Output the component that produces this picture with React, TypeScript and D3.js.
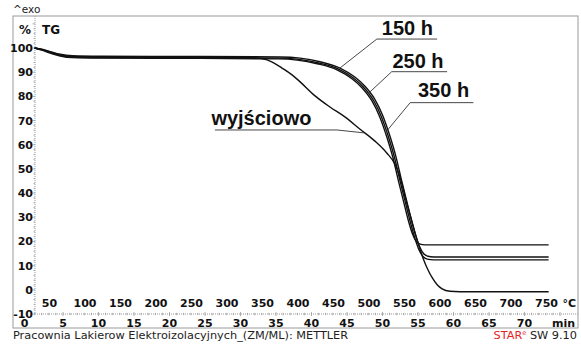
import React from "react";
import * as d3 from "d3";

const W = 581;
const H = 344;

// Axis ticks
const yTicks = [100, 90, 80, 70, 60, 50, 40, 30, 20, 10, 0, -10];
const timeTicks = [0, 5, 10, 15, 20, 25, 30, 35, 40, 45, 50, 55, 60, 65, 70];
const tempTicks = [50, 100, 150, 200, 250, 300, 350, 400, 450, 500, 550, 600, 650, 700, 750];
const tempAtZero = 19; // °C at t = 0
const heatingRate = 10; // K/min

// Series: [time (min), mass (%)]
const wyjsciowo: [number, number][] = [
  [1.0, 100.0], [2.0, 99.4], [3.2, 98.3], [4.6, 97.1], [6.3, 96.5], [10.2, 96.3], [24.3, 96.2],
  [31.3, 96.1], [33.0, 95.6], [34.4, 94.3], [35.8, 91.8], [37.3, 88.8], [38.4, 86.0], [40.5, 80.2],
  [42.6, 75.6], [44.7, 71.5], [46.8, 66.5], [48.9, 61.6], [50.6, 56.6], [51.8, 51.7], [52.5, 46.3],
  [53.3, 37.2], [54.15, 28.1], [55.0, 19.4], [55.7, 13.2], [56.4, 8.3], [57.0, 5.0], [57.7, 2.1],
  [58.4, 0.4], [59.5, -0.6], [60.9, -0.8], [73.4, -0.8],
];
const h150: [number, number][] = [
  [1.0, 100.0], [2.0, 99.5], [3.2, 98.5], [4.6, 97.4], [6.3, 96.8], [10.2, 96.6], [24.3, 96.5],
  [35.6, 96.3], [38.4, 95.8], [41.2, 94.3], [44.0, 91.7], [46.1, 88.0], [47.5, 84.3], [48.9, 78.9],
  [50.0, 72.3], [51.0, 64.0], [51.9, 55.0], [52.6, 46.3], [53.3, 38.0], [54.0, 29.8], [54.7, 22.3],
  [55.3, 17.4], [55.8, 14.9], [56.4, 13.9], [57.2, 13.6], [73.4, 13.6],
];
const h250: [number, number][] = [
  [1.0, 100.0], [2.0, 99.3], [3.2, 98.2], [4.6, 97.0], [6.3, 96.3], [10.2, 96.1], [24.3, 96.0],
  [35.4, 95.8], [38.2, 95.3], [41.0, 93.8], [43.8, 91.3], [45.9, 87.6], [47.3, 83.9], [48.7, 78.5],
  [49.8, 71.9], [50.8, 63.6], [51.7, 54.6], [52.4, 45.9], [53.1, 37.6], [53.8, 29.4], [54.5, 21.9],
  [55.1, 16.8], [55.7, 13.8], [56.3, 12.7], [57.2, 12.4], [73.4, 12.4],
];
const h350: [number, number][] = [
  [1.0, 100.0], [2.0, 99.1], [3.2, 97.9], [4.6, 96.7], [6.3, 96.0], [10.2, 95.8], [24.3, 95.7],
  [35.2, 95.5], [38.0, 95.0], [40.8, 93.5], [43.6, 91.0], [45.7, 87.3], [47.1, 83.6], [48.5, 78.2],
  [49.6, 71.6], [50.6, 63.3], [51.5, 54.3], [52.2, 45.6], [52.9, 37.3], [53.6, 29.1], [54.2, 23.3],
  [54.7, 20.2], [55.2, 19.0], [56.0, 18.6], [73.4, 18.6],
];

const seriesList = [
  { name: "wyjściowo", data: wyjsciowo },
  { name: "150 h", data: h150 },
  { name: "250 h", data: h250 },
  { name: "350 h", data: h350 },
];

// annotation labels: text anchor, underline span (in data units), leader target time on curve
const annotations = [
  { text: "150 h", series: h150, textT: 49.9, textV: 105.2, lineV: 103.7, lineT0: 49.2, lineT1: 57.7, targetT: 44.0, side: "left" },
  { text: "250 h", series: h250, textT: 51.4, textV: 91.8, lineV: 90.2, lineT0: 51.3, lineT1: 59.1, targetT: 48.0, side: "left" },
  { text: "350 h", series: h350, textT: 55.0, textV: 79.6, lineV: 77.4, lineT0: 53.9, lineT1: 62.8, targetT: 50.4, side: "left" },
  { text: "wyjściowo", series: wyjsciowo, textT: 25.9, textV: 68.2, lineV: 66.1, lineT0: 26.4, lineT1: 43.6, targetT: 47.5, side: "right" },
];

function interp(data: [number, number][], t: number): number {
  for (let i = 1; i < data.length; i++) {
    if (data[i][0] >= t) {
      const [t0, v0] = data[i - 1];
      const [t1, v1] = data[i];
      return v0 + ((v1 - v0) * (t - t0)) / (t1 - t0);
    }
  }
  return data[data.length - 1][1];
}

export default function App() {
  const x = d3.scaleLinear().domain([0, 75]).range([27.5, 560]);
  const y = d3.scaleLinear().domain([-10, 100]).range([314, 48]);
  const xT = (T: number) => x((T - tempAtZero) / heatingRate);

  const line = d3
    .line<[number, number]>()
    .x((d) => x(d[0]))
    .y((d) => y(d[1]))
    .curve(d3.curveMonotoneX);

  const frameL = 13, frameR = 578, frameT = 16, frameB = 328;
  const axisX = 35;
  const axisY = y(-10);

  const minorY = d3.range(-10, 112, 2);
  const minorX = d3.range(1, 76, 1);

  const axisFont = "'DejaVu Sans', Verdana, sans-serif";
  const annFont = "'Liberation Sans', Arial, sans-serif";

  return (
    <svg width={W} height={H} style={{ position: "absolute", left: 0, top: 0, background: "#fff" }}>
      {/* frame */}
      <rect x={frameL} y={frameT} width={frameR - frameL} height={frameB - frameT} fill="none" stroke="#9a9a9a" strokeWidth={1} />
      <text x={13} y={13} fontFamily={axisFont} fontSize={10.5} fill="#222">^exo</text>

      {/* y axis */}
      <line x1={axisX} x2={axisX} y1={frameT} y2={axisY} stroke="#999" strokeWidth={1} strokeDasharray="1 1" />
      {minorY.map((v) => (
        <line key={"my" + v} x1={axisX - (v % 10 === 0 ? 2.5 : 1.5)} x2={axisX} y1={y(v)} y2={y(v)} stroke="#999" strokeWidth={0.8} />
      ))}
      {yTicks.map((v) => (
        <text key={"yt" + v} x={axisX - 2} y={y(v) + 4} textAnchor="end" fontFamily={axisFont} fontWeight="bold" fontSize={11} fill="#111">
          {v}
        </text>
      ))}
      <text x={19} y={34} fontFamily={axisFont} fontWeight="bold" fontSize={12} fill="#111">%</text>
      <text x={42} y={34} fontFamily={axisFont} fontWeight="bold" fontSize={12} fill="#111">TG</text>

      {/* x axis */}
      <line x1={axisX} x2={frameR} y1={axisY} y2={axisY} stroke="#999" strokeWidth={1} strokeDasharray="1 1" />
      {minorX.map((t) => (
        <line key={"mx" + t} x1={x(t)} x2={x(t)} y1={axisY - (t % 5 === 0 ? 2 : 1.2)} y2={axisY + (t % 5 === 0 ? 2 : 1.2)} stroke="#999" strokeWidth={0.8} />
      ))}
      {tempTicks.map((T) => (
        <text key={"tt" + T} x={xT(T)} y={307} textAnchor="middle" fontFamily={axisFont} fontWeight="bold" fontSize={11} fill="#111">
          {T}
        </text>
      ))}
      <text x={576} y={307} textAnchor="end" fontFamily={axisFont} fontWeight="bold" fontSize={11} fill="#111">°C</text>
      {timeTicks.map((t) => (
        <text key={"ti" + t} x={x(t) - (t === 0 ? 3 : 0)} y={327} textAnchor="middle" fontFamily={axisFont} fontWeight="bold" fontSize={11} fill="#111">
          {t}
        </text>
      ))}
      <text x={575} y={327} textAnchor="end" fontFamily={axisFont} fontWeight="bold" fontSize={11} fill="#111">min</text>

      {/* curves */}
      {seriesList.map((s) => (
        <path key={s.name} d={line(s.data) || ""} fill="none" stroke="#111" strokeWidth={1.4} />
      ))}

      {/* annotations */}
      {annotations.map((a) => {
        const lx = a.side === "left" ? x(a.lineT0) : x(a.lineT1);
        const ly = y(a.lineV);
        const tx = x(a.targetT);
        const ty = y(interp(a.series, a.targetT));
        return (
          <g key={a.text}>
            <text x={x(a.textT)} y={y(a.textV)} fontFamily={annFont} fontWeight="bold" fontSize={20} fill="#111">
              {a.text}
            </text>
            <line x1={x(a.lineT0)} x2={x(a.lineT1)} y1={ly} y2={ly} stroke="#333" strokeWidth={0.9} />
            <line x1={lx} y1={ly} x2={tx} y2={ty} stroke="#333" strokeWidth={0.9} />
          </g>
        );
      })}

      {/* footer */}
      <text x={13} y={339} fontFamily={axisFont} fontSize={11.3} fill="#222">
        Pracownia Lakierow Elektroizolacyjnych_(ZM/ML): METTLER
      </text>
      <text x={577} y={339} textAnchor="end" fontFamily={axisFont} fontSize={11.3} fill="#222">
        <tspan fill="#e8231e">STAR</tspan>
        <tspan fill="#e8231e" fontSize={6.5} dy={-4}>e</tspan>
        <tspan dy={4}> SW 9.10</tspan>
      </text>
    </svg>
  );
}
